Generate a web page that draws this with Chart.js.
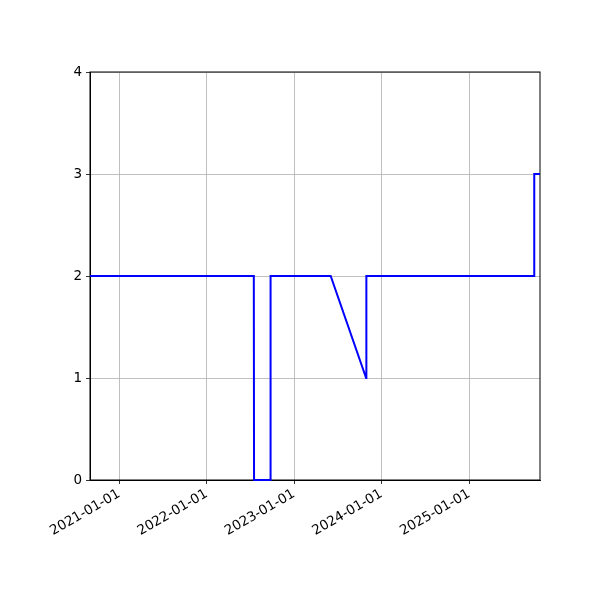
<!DOCTYPE html>
<html>
<head>
<meta charset="utf-8">
<script src="https://cdn.jsdelivr.net/npm/chart.js@4/dist/chart.umd.min.js"></script>
<style>
  html, body { margin: 0; padding: 0; background: white; }
  #wrap { width: 600px; height: 600px; }
</style>
</head>
<body>
<div id="wrap"><canvas id="chart" width="600" height="600"></canvas></div>
<script>
// dates of each reading and the value at that date
const dates = ['2020-09-01', '2022-07-17', '2022-07-18', '2022-09-24', '2022-09-25',
               '2023-06-03', '2023-10-29', '2023-10-30', '2025-09-29', '2025-09-30', '2025-10-24'];
const values = [2, 2, 0, 0, 2, 2, 1, 2, 2, 3, 3];
const tickDates = ['2021-01-01', '2022-01-01', '2023-01-01', '2024-01-01', '2025-01-01'];
const yTicks = [0, 1, 2, 3, 4];

const toMs = d => Date.parse(d + 'T00:00:00Z');
const points = dates.map((d, i) => ({ x: toMs(d), y: values[i] }));

// draws the top and right spines like matplotlib
const frame = {
    id: 'frame',
    beforeDatasetsDraw(chart) {
        const { ctx, chartArea: a } = chart;
        ctx.save();
        ctx.strokeStyle = 'black';
        ctx.lineWidth = 1;
        ctx.strokeRect(a.left, a.top, a.right - a.left, a.bottom - a.top);
        ctx.restore();
    }
};

const font = { family: 'DejaVu Sans', size: 13.5 };

new Chart(document.getElementById('chart'), {
    type: 'line',
    data: {
        datasets: [{
            data: points,
            borderColor: '#0000ff',
            borderWidth: 2,
            pointRadius: 0,
            tension: 0,
            fill: false,
            clip: 2
        }]
    },
    options: {
        responsive: false,
        animation: false,
        layout: { padding: { left: 0, right: 60, top: 72, bottom: 0 } },
        plugins: { legend: { display: false }, tooltip: { enabled: false } },
        scales: {
            x: {
                type: 'linear',
                min: points[0].x,
                max: points[points.length - 1].x,
                afterBuildTicks: axis => { axis.ticks = tickDates.map(d => ({ value: toMs(d) })); },
                afterFit: axis => { axis.height = 120; },
                ticks: {
                    color: 'black',
                    font: font,
                    minRotation: 30,
                    maxRotation: 30,
                    padding: 2,
                    callback: v => new Date(v).toISOString().slice(0, 10)
                },
                grid: { color: '#b0b0b0', lineWidth: 0.8, tickColor: 'black', tickLength: 4 },
                border: { color: 'black', width: 1 }
            },
            y: {
                min: 0,
                max: 4,
                afterBuildTicks: axis => { axis.ticks = yTicks.map(v => ({ value: v })); },
                afterFit: axis => { axis.width = 90; },
                ticks: { color: 'black', font: font, padding: 4 },
                grid: { color: '#b0b0b0', lineWidth: 0.8, tickColor: 'black', tickLength: 4 },
                border: { color: 'black', width: 1 }
            }
        }
    },
    plugins: [frame]
});
</script>
</body>
</html>
